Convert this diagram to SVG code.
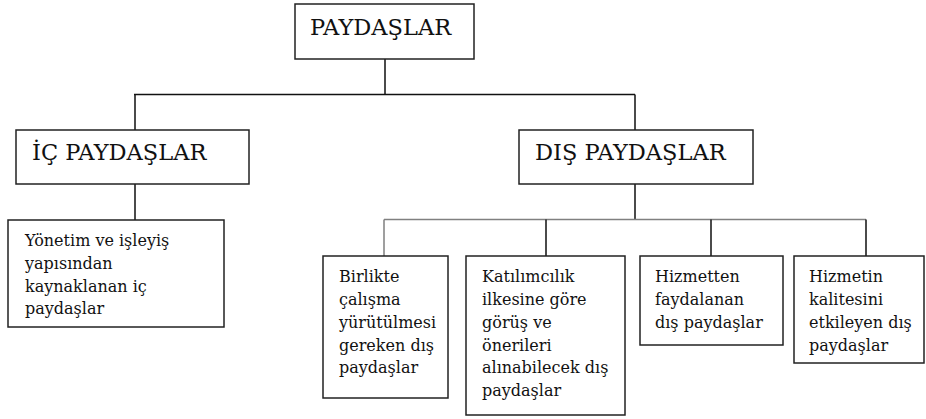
<svg xmlns="http://www.w3.org/2000/svg" width="926" height="419" viewBox="0 0 926 419">
<style>
.box{fill:#fff;stroke:#222;stroke-width:1.5}
.ln{stroke:#111;stroke-width:1.5;fill:none}
.gl{stroke:#808080;stroke-width:1.5;fill:none}
.big{font-family:"DejaVu Serif",serif;font-size:22.5px;fill:#111}
.sm{font-family:"DejaVu Serif",serif;font-size:16px;fill:#111}
</style>
<rect width="926" height="419" fill="#fff"/>
<g id="connectors">
<path class="ln" d="M385 59V94.5M134 94.5H635M135 94.5V130M635 94.5V130M135 184V220M635 184V219.5"/>
<path class="gl" d="M384 219.5H866M384 219.5V256"/>
<path class="ln" d="M546 219.5V256M711 219.5V256M866 219.5V256"/>
</g>
<g id="paydaslar"><rect class="box" x="295" y="4" width="179" height="55"/><text class="big" x="310" y="35">PAYDAŞLAR</text></g>
<g id="ic"><rect class="box" x="16" y="130" width="233" height="54"/><text class="big" x="32" y="160">İÇ PAYDAŞLAR</text></g>
<g id="dis"><rect class="box" x="519" y="130" width="234" height="54"/><text class="big" x="535" y="160">DIŞ PAYDAŞLAR</text></g>
<g id="yonetim"><rect class="box" x="8" y="220" width="216" height="107"/>
<text class="sm"><tspan x="25" y="246">Yönetim ve işleyiş</tspan><tspan x="25" y="269">yapısından</tspan><tspan x="25" y="292">kaynaklanan iç</tspan><tspan x="25" y="314">paydaşlar</tspan></text></g>
<g id="birlikte"><rect class="box" x="323" y="256" width="125" height="142"/>
<text class="sm"><tspan x="339" y="282">Birlikte</tspan><tspan x="339" y="305">çalışma</tspan><tspan x="339" y="328">yürütülmesi</tspan><tspan x="339" y="351">gereken dış</tspan><tspan x="339" y="373">paydaşlar</tspan></text></g>
<g id="katilimcilik"><rect class="box" x="466" y="256" width="159" height="159"/>
<text class="sm"><tspan x="482" y="282">Katılımcılık</tspan><tspan x="482" y="305">ilkesine göre</tspan><tspan x="482" y="328">görüş ve</tspan><tspan x="482" y="351">önerileri</tspan><tspan x="482" y="373">alınabilecek dış</tspan><tspan x="482" y="396">paydaşlar</tspan></text></g>
<g id="hizmetten"><rect class="box" x="640" y="256" width="143" height="89"/>
<text class="sm"><tspan x="655" y="282">Hizmetten</tspan><tspan x="655" y="305">faydalanan</tspan><tspan x="655" y="328">dış paydaşlar</tspan></text></g>
<g id="hizmetin"><rect class="box" x="794" y="256" width="130" height="107"/>
<text class="sm"><tspan x="809" y="282">Hizmetin</tspan><tspan x="809" y="305">kalitesini</tspan><tspan x="809" y="328">etkileyen dış</tspan><tspan x="809" y="351">paydaşlar</tspan></text></g>
</svg>
